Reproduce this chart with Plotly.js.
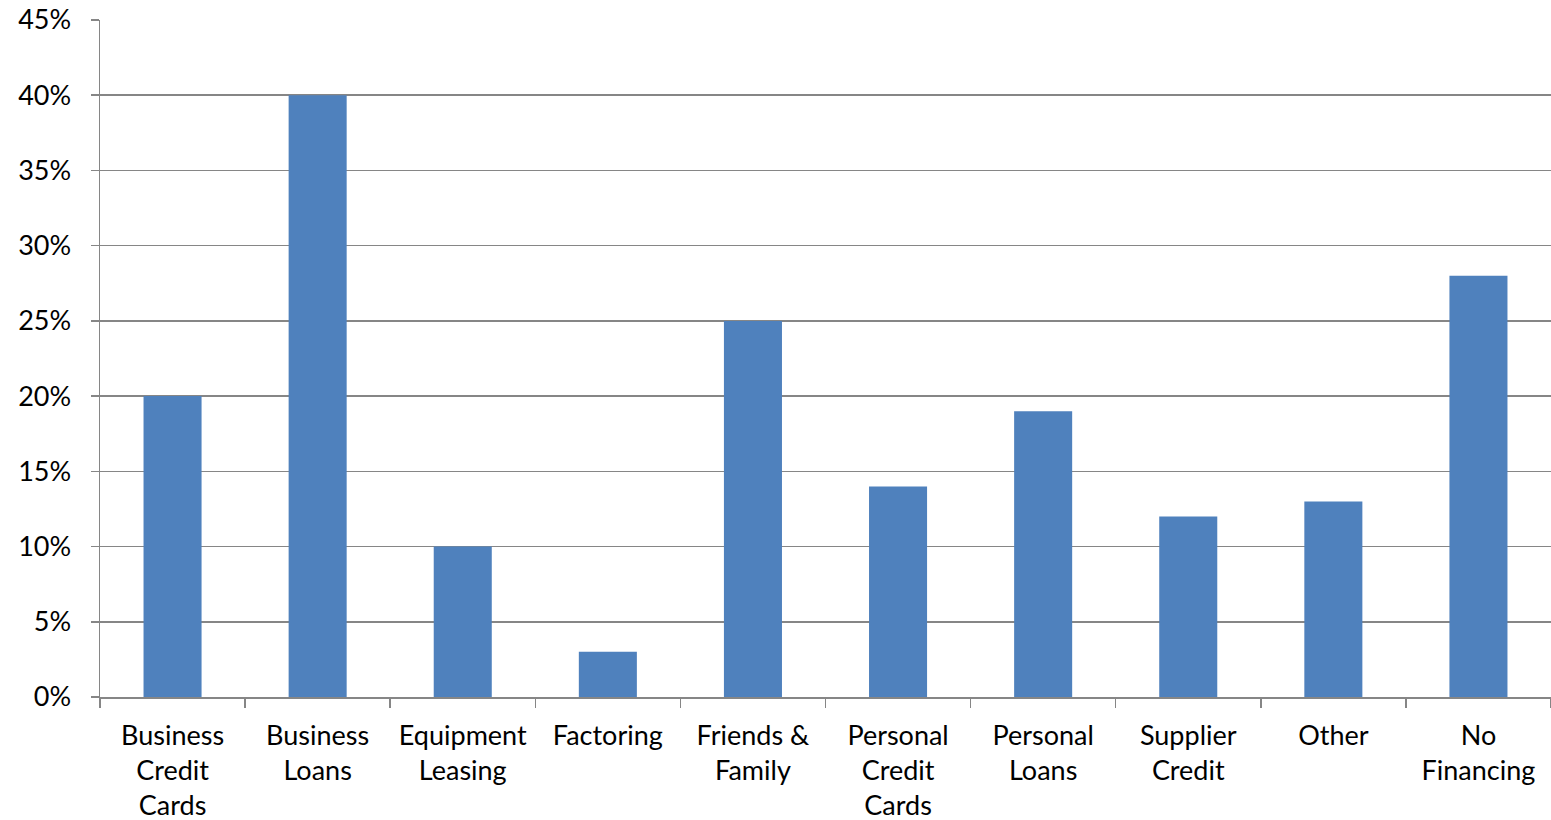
<!DOCTYPE html>
<html>
<head>
<meta charset="utf-8">
<script src="https://cdn.plot.ly/plotly-3.0.1.min.js"></script>
<style>html,body{margin:0;padding:0;background:#fff;}#chart{width:1551px;height:820px;}</style>
</head>
<body>
<div id="chart"></div>
<script>
const categories = ["Business<br>Credit<br>Cards", "Business<br>Loans", "Equipment<br>Leasing", "Factoring", "Friends &amp;<br>Family", "Personal<br>Credit<br>Cards", "Personal<br>Loans", "Supplier<br>Credit", "Other", "No<br>Financing"];
const shares = [0.20, 0.40, 0.10, 0.03, 0.25, 0.14, 0.19, 0.12, 0.13, 0.28];
const yTicks = [0, 0.05, 0.10, 0.15, 0.20, 0.25, 0.30, 0.35, 0.40, 0.45];

const trace = {
  type: 'bar',
  x: categories,
  y: shares,
  marker: {color: '#4F81BD', line: {width: 0}},
  hoverinfo: 'x+y'
};

const layout = {
  width: 1551, height: 820,
  margin: {l: 100, r: 0, t: 20, b: 123},
  paper_bgcolor: '#fff', plot_bgcolor: '#fff',
  font: {family: 'Lato, "Open Sans", sans-serif', size: 27, color: '#000'},
  showlegend: false,
  bargap: 0.6,
  xaxis: {
    type: 'category',
    tickson: 'boundaries',
    ticks: 'outside', ticklen: 9, tickwidth: 1.5, tickcolor: '#868686',
    showline: true, linecolor: '#868686', linewidth: 1.5,
    showgrid: false, zeroline: false,
    tickangle: 0,
    ticklabelstandoff: 14,
    fixedrange: true
  },
  yaxis: {
    range: [0, 0.45],
    tickvals: yTicks,
    tickformat: '.0%',
    ticks: 'outside', ticklen: 8, tickwidth: 1.5, tickcolor: '#868686',
    showline: true, linecolor: '#868686', linewidth: 1.5,
    showgrid: true, gridcolor: '#868686', gridwidth: 1.5,
    zeroline: false,
    ticklabelstandoff: 14,
    fixedrange: true
  }
};

Plotly.newPlot('chart', [trace], layout, {displayModeBar: false, staticPlot: true});
</script>
</body>
</html>
